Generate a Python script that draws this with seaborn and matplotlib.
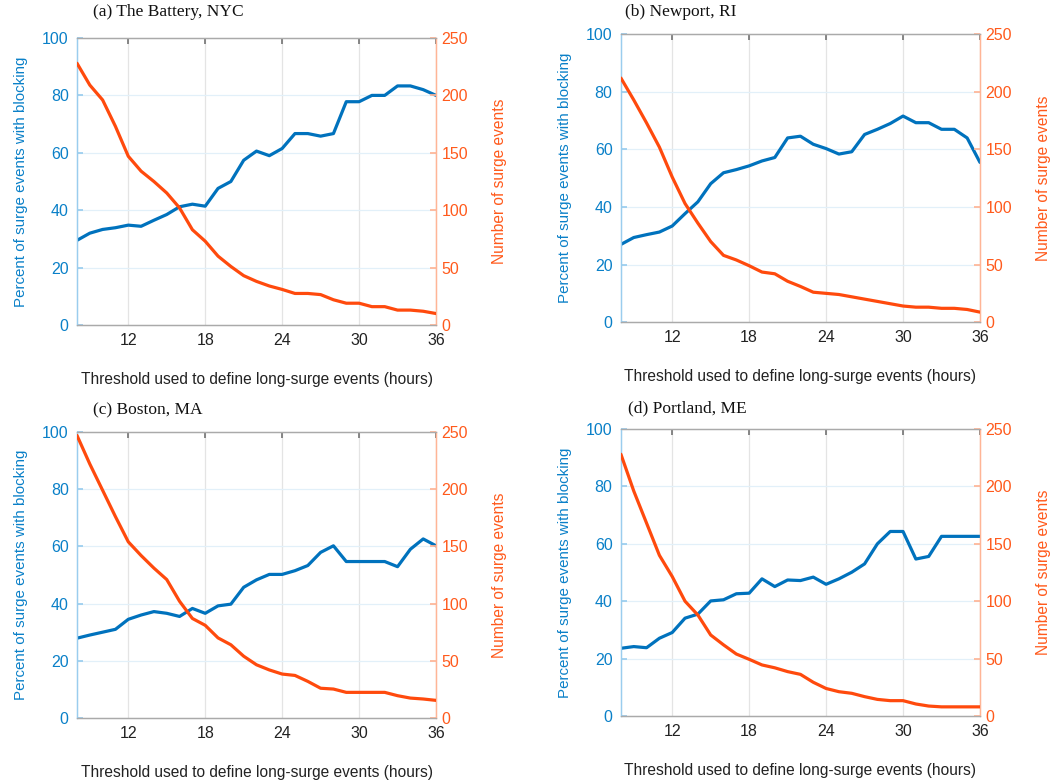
import numpy as np
import pandas as pd
import matplotlib
matplotlib.use("Agg")
import matplotlib.pyplot as plt
import seaborn as sns

# Threshold durations (hours)
hours = list(range(8, 37))

# Percent of long-surge events coincident with blocking
pct_battery = [29.5, 32.0, 33.3, 33.9, 34.8, 34.4, 36.5, 38.5, 41.2, 42.1, 41.4, 47.6, 50.0, 57.4, 60.6,
               59.0, 61.5, 66.7, 66.7, 65.8, 66.7, 77.8, 77.8, 80.0, 80.0, 83.3, 83.3, 82.0, 80.0]
pct_newport = [27.0, 29.4, 30.4, 31.3, 33.4, 37.7, 41.8, 48.1, 51.9, 53.0, 54.3, 56.0, 57.2, 64.0, 64.6,
               61.8, 60.3, 58.4, 59.2, 65.2, 67.0, 69.0, 71.6, 69.3, 69.3, 67.0, 67.0, 64.0, 55.5]
pct_boston = [27.9, 29.0, 30.0, 31.0, 34.5, 36.0, 37.2, 36.6, 35.5, 38.3, 36.6, 39.2, 39.8, 45.7, 48.3,
              50.2, 50.2, 51.5, 53.3, 57.9, 60.2, 54.7, 54.7, 54.7, 54.7, 52.9, 59.0, 62.6, 60.2]
pct_portland = [23.6, 24.2, 23.8, 27.1, 29.1, 34.1, 35.5, 40.1, 40.5, 42.6, 42.8, 47.8, 45.1, 47.4, 47.2,
                48.4, 45.9, 47.8, 50.1, 53.0, 60.0, 64.3, 64.3, 54.7, 55.6, 62.6, 62.6, 62.6, 62.6]

# Number of long-surge events at each threshold
n_battery = [228, 209, 196, 173, 147, 134, 125, 115, 102, 83, 73, 60, 51, 43, 38,
             34, 31, 27.5, 27.5, 26.5, 22, 19, 19, 16, 16, 13, 13, 12, 10]
n_newport = [212, 193, 173, 152, 126, 103, 86, 70, 58, 54, 49, 43.5, 42, 35.5, 31,
             26, 25, 24, 22, 20, 18, 16, 14, 13, 13, 12, 12, 11, 8.7]
n_boston = [247, 222, 199, 176, 154, 142, 131, 121, 102, 87, 81, 70, 64, 54, 46.5,
            42, 38.4, 37.2, 32, 26, 25.3, 22.4, 22.4, 22.4, 22.4, 19.5, 17.4, 16.6, 15.4]
n_portland = [228, 196, 168, 140, 121.5, 100, 88, 70.6, 62, 54, 49.4, 44.5, 42, 38.7, 36.3,
              29.4, 24, 21.2, 19.8, 16.9, 14.5, 13.4, 13.4, 10.5, 8.7, 8, 8, 8, 8]

titles = ["(a) The Battery, NYC", "(b) Newport, RI", "(c) Boston, MA", "(d) Portland, ME"]
pct_series = [pct_battery, pct_newport, pct_boston, pct_portland]
n_series = [n_battery, n_newport, n_boston, n_portland]

x_ticks = [12, 18, 24, 30, 36]
left_ticks = [0, 20, 40, 60, 80, 100]
right_ticks = [0, 50, 100, 150, 200, 250]

BLUE = "#0072BD"
BLUE_TXT = "#0A80C8"
ORANGE = "#FF4A0D"
ORANGE_TXT = "#FF5A1C"
BLUE_SPINE = "#9ACDEE"
ORANGE_SPINE = "#FFB596"

sns.set_theme(style="white")
plt.rcParams["font.family"] = ["Liberation Sans", "DejaVu Sans"]

fig = plt.figure(figsize=(10.56, 7.8), dpi=100)

positions = [
    [0.0729, 0.5833, 0.340, 0.368],
    [0.588, 0.587, 0.340, 0.369],
    [0.0729, 0.0795, 0.340, 0.3667],
    [0.588, 0.082, 0.340, 0.368],
]
# panel title anchors in figure fractions (left, vertical centre)
title_xy = [(0.088, 0.984), (0.592, 0.984), (0.088, 0.474), (0.595, 0.476)]

for pos, txy, title, pct, n in zip(positions, title_xy, titles, pct_series, n_series):
    ax = fig.add_axes(pos)
    df = pd.DataFrame({"hours": hours, "pct": pct, "n": n})

    # grid lines
    for xt in x_ticks:
        ax.axvline(xt, color="#E4E4E4", lw=0.9, zorder=0)
    for yt in left_ticks[1:-1]:
        ax.axhline(yt, color="#E2F0F9", lw=0.9, zorder=0)

    sns.lineplot(data=df, x="hours", y="pct", ax=ax, color=BLUE, lw=2.3, zorder=3)
    ax.set_xlim(8, 36)
    ax.set_ylim(0, 100)
    ax.set_xticks(x_ticks)
    ax.set_yticks(left_ticks)
    ax.tick_params(axis="x", direction="in", length=4, color="#777777", labelsize=11.5,
                   labelcolor="#222222", top=True, pad=6)
    ax.tick_params(axis="y", direction="in", length=4, color=BLUE_SPINE, labelsize=11.5,
                   labelcolor=BLUE_TXT, pad=6)
    ax.set_xlabel("Threshold used to define long-surge events (hours)", fontsize=11.2,
                  color="#222222", labelpad=17)
    ax.set_ylabel("Percent of surge events with blocking", fontsize=10.9, color=BLUE_TXT,
                  labelpad=10)

    ax2 = ax.twinx()
    sns.lineplot(data=df, x="hours", y="n", ax=ax2, color=ORANGE, lw=2.3, zorder=3)
    ax2.set_ylim(0, 250)
    ax2.set_yticks(right_ticks)
    ax2.tick_params(axis="y", direction="in", length=4, color=ORANGE_SPINE, labelsize=11.5,
                    labelcolor=ORANGE_TXT, pad=4)
    ax2.set_ylabel("Number of surge events", fontsize=11.2, color=ORANGE_TXT, labelpad=17)
    ax2.set_xlabel("")

    for a in (ax, ax2):
        a.spines["top"].set_color("#AAAAAA")
        a.spines["bottom"].set_color("#AAAAAA")
        a.spines["left"].set_color(BLUE_SPINE)
        a.spines["right"].set_color(ORANGE_SPINE)
        for s in a.spines.values():
            s.set_linewidth(0.9)

    fig.text(txy[0], txy[1], title, fontsize=12.5,
             family=["Liberation Serif", "DejaVu Serif"], color="#111111", va="center")

fig.savefig("out.png", dpi=100)
